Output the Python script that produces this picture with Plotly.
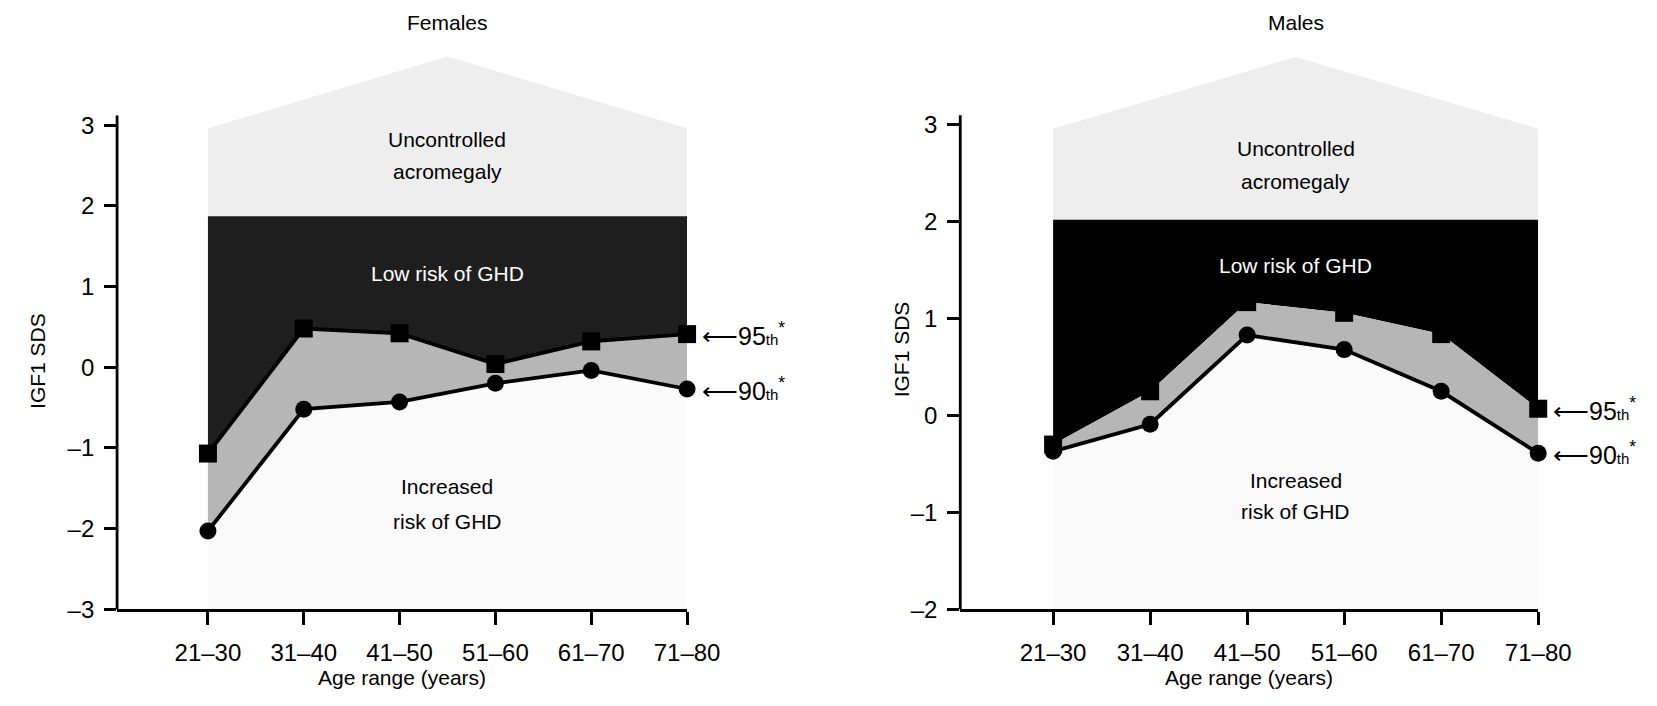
import plotly.graph_objects as go

# Age bands on the x axis
AGE_RANGES = ["21–30", "31–40", "41–50", "51–60", "61–70", "71–80"]

# IGF1 SDS cut-offs per age band
FEMALE_P95 = [-1.07, 0.48, 0.42, 0.04, 0.32, 0.41]
FEMALE_P90 = [-2.03, -0.52, -0.43, -0.20, -0.04, -0.27]
MALE_P95 = [-0.30, 0.25, 1.17, 1.06, 0.84, 0.07]
MALE_P90 = [-0.37, -0.09, 0.83, 0.68, 0.25, -0.39]

# Zone boundaries: top of "low risk" band, roof eaves, roof peak
FEMALE_BANDS = [1.87, 2.96, 3.85]
MALE_BANDS = [2.02, 2.96, 3.70]

FEMALE_YTICKS = [-3, -2, -1, 0, 1, 2, 3]
MALE_YTICKS = [-2, -1, 0, 1, 2, 3]

FONT = "Liberation Sans, Arial, Helvetica, sans-serif"
# Layout grid (positions below are given on a 1657 x 706 grid)
GW, GH = 1657, 706
W, H = 1687, 719

panels = [
    dict(name="Females", p95=FEMALE_P95, p90=FEMALE_P90, bands=FEMALE_BANDS,
         yticks=FEMALE_YTICKS, xr=[-0.948, 5.0], yr=[-3.0, 3.9],
         xdom=[117.3 / GW, 688.3 / GW], ydom=[1 - 609.3 / GH, 1 - 52.5 / GH],
         dark="#1e1e1e", p95_line=True, axis_top=3.12,
         label_y=dict(unc=[2.82, 2.42], low=1.16, inc=[-1.48, -1.91]),
         ytitle_x=37, ytitle_y=361),
    dict(name="Males", p95=MALE_P95, p90=MALE_P90, bands=MALE_BANDS,
         yticks=MALE_YTICKS, xr=[-0.957, 5.0], yr=[-2.0, 3.8],
         xdom=[962.0 / GW, 1541.0 / GW], ydom=[1 - 609.3 / GH, 1 - 47.3 / GH],
         dark="#000000", p95_line=False, axis_top=3.1,
         label_y=dict(unc=[2.76, 2.41], low=1.55, inc=[-0.67, -0.99]),
         ytitle_x=903, ytitle_y=349),
]

fig = go.Figure()
shapes, annotations = [], []
xpos = list(range(len(AGE_RANGES)))


def to_paper(v, rng, dom):
    return dom[0] + (v - rng[0]) / (rng[1] - rng[0]) * (dom[1] - dom[0])


for i, p in enumerate(panels, start=1):
    xa, ya = ("x", "y") if i == 1 else (f"x{i}", f"y{i}")
    x0, x1 = xpos[0], xpos[-1]
    xm = (x0 + x1) / 2
    low_top, eave, peak = p["bands"]
    ymin = p["yr"][0]

    # Uncontrolled acromegaly "roof"
    fig.add_trace(go.Scatter(
        x=[x0, x0, xm, x1, x1], y=[low_top, eave, peak, eave, low_top],
        fill="toself", fillcolor="#eeeeee", line=dict(width=0),
        mode="lines", xaxis=xa, yaxis=ya, hoverinfo="skip", showlegend=False))
    # Low-risk band above the 95th percentile
    fig.add_trace(go.Scatter(
        x=[x0, x1] + xpos[::-1], y=[low_top, low_top] + p["p95"][::-1],
        fill="toself", fillcolor=p["dark"], line=dict(width=0),
        mode="lines", xaxis=xa, yaxis=ya, hoverinfo="skip", showlegend=False))
    # Grey band between 90th and 95th percentiles
    fig.add_trace(go.Scatter(
        x=xpos + xpos[::-1], y=p["p95"] + p["p90"][::-1],
        fill="toself", fillcolor="#b6b6b6", line=dict(width=0),
        mode="lines", xaxis=xa, yaxis=ya, hoverinfo="skip", showlegend=False))
    # Increased-risk zone below the 90th percentile
    fig.add_trace(go.Scatter(
        x=xpos + [x1, x0], y=p["p90"] + [ymin, ymin],
        fill="toself", fillcolor="#fafafa", line=dict(width=0),
        mode="lines", xaxis=xa, yaxis=ya, hoverinfo="skip", showlegend=False))

    # 95th percentile (squares)
    fig.add_trace(go.Scatter(
        x=xpos, y=p["p95"], mode="lines+markers" if p["p95_line"] else "markers",
        line=dict(color="black", width=3.8),
        marker=dict(symbol="square", size=18, color="black"),
        cliponaxis=False, xaxis=xa, yaxis=ya, showlegend=False))
    # 90th percentile (circles)
    fig.add_trace(go.Scatter(
        x=xpos, y=p["p90"], mode="lines+markers",
        line=dict(color="black", width=3.8),
        marker=dict(symbol="circle", size=17, color="black"),
        cliponaxis=False, xaxis=xa, yaxis=ya, showlegend=False))

    # Y axis line (stops just above the top tick)
    xl = p["xdom"][0]
    shapes.append(dict(type="line", xref="paper", yref="paper",
                       x0=xl, x1=xl,
                       y0=to_paper(ymin, p["yr"], p["ydom"]),
                       y1=to_paper(p["axis_top"], p["yr"], p["ydom"]),
                       line=dict(color="black", width=2.8)))

    tick_font = dict(family=FONT, size=24, color="black")
    fig.update_layout(**{
        ("xaxis" if i == 1 else f"xaxis{i}"): dict(
            domain=p["xdom"], range=p["xr"], anchor=ya,
            tickvals=xpos, ticktext=AGE_RANGES, ticks="outside",
            ticklen=13, tickwidth=2.8, tickcolor="black",
            showline=True, linecolor="black", linewidth=2.8,
            showgrid=False, zeroline=False, tickfont=tick_font,
            ticklabelstandoff=7),
        ("yaxis" if i == 1 else f"yaxis{i}"): dict(
            domain=p["ydom"], range=p["yr"], anchor=xa,
            tickvals=p["yticks"],
            ticktext=[str(v).replace("-", "–") for v in p["yticks"]],
            ticks="outside", ticklen=12, tickwidth=2.8, tickcolor="black",
            showline=False, showgrid=False, zeroline=False,
            tickfont=tick_font, ticklabelstandoff=5),
    })

    txt = dict(family=FONT, size=21, color="black")
    ly = p["label_y"]
    # Panel title
    annotations.append(dict(text=p["name"], x=xm, xref=xa, y=1 - 23 / GH, yref="paper",
                            xanchor="center", yanchor="middle",
                            showarrow=False, font=txt))
    # Zone labels
    for t, yv in zip(["Uncontrolled", "acromegaly"], ly["unc"]):
        annotations.append(dict(text=t, x=xm, xref=xa, y=yv, yref=ya,
                                xanchor="center", yanchor="middle",
                                showarrow=False, font=txt))
    annotations.append(dict(text="Low risk of GHD", x=xm, xref=xa, y=ly["low"], yref=ya,
                            xanchor="center", yanchor="middle", showarrow=False,
                            font=dict(family=FONT, size=21, color="white")))
    for t, yv in zip(["Increased", "risk of GHD"], ly["inc"]):
        annotations.append(dict(text=t, x=xm, xref=xa, y=yv, yref=ya,
                                xanchor="center", yanchor="middle",
                                showarrow=False, font=txt))
    # Percentile labels
    for vals, lab in ((p["p95"], "95"), (p["p90"], "90")):
        annotations.append(dict(
            text=f"⟵{lab}<span style='font-size:15px'>th</span><sup>*</sup>",
            x=x1, xref=xa, y=vals[-1], yref=ya, xanchor="left", yanchor="middle",
            xshift=13, showarrow=False, font=dict(family=FONT, size=25, color="black")))
    # Axis titles
    xcen = (p["xdom"][0] + p["xdom"][1]) / 2
    annotations.append(dict(text="Age range (years)", x=xcen, xref="paper",
                            y=1 - 677 / GH, yref="paper", xanchor="center",
                            yanchor="middle", showarrow=False, font=txt))
    annotations.append(dict(text="IGF1 SDS", x=p["ytitle_x"] / GW, xref="paper",
                            y=1 - p["ytitle_y"] / GH, yref="paper",
                            xanchor="center", yanchor="middle",
                            textangle=-90, showarrow=False, font=txt))

fig.update_layout(width=W, height=H, margin=dict(l=0, r=0, t=0, b=0),
                  paper_bgcolor="white", plot_bgcolor="white",
                  shapes=shapes, annotations=annotations,
                  font=dict(family=FONT))

fig.write_html("out.html")
